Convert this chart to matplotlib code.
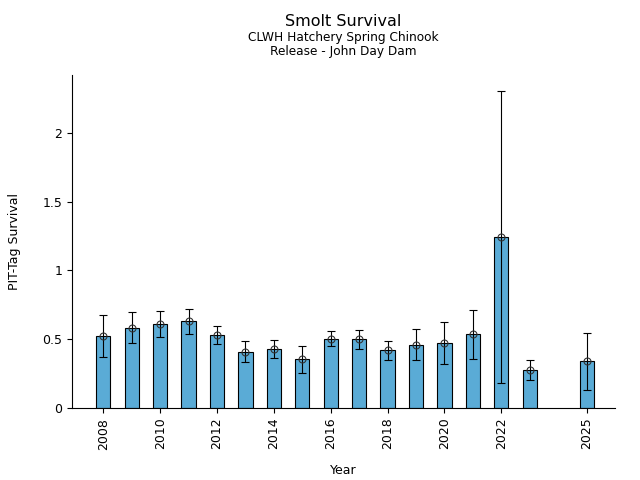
import matplotlib
matplotlib.use("Agg")
import matplotlib.pyplot as plt

years = [2008, 2009, 2010, 2011, 2012, 2013, 2014, 2015, 2016, 2017, 2018, 2019, 2020, 2021, 2022, 2023, 2025]
survival = [0.52, 0.58, 0.61, 0.63, 0.53, 0.41, 0.43, 0.355, 0.50, 0.50, 0.42, 0.456, 0.47, 0.536, 1.244, 0.274, 0.34]
upper = [0.674, 0.696, 0.708, 0.718, 0.594, 0.485, 0.492, 0.453, 0.558, 0.565, 0.485, 0.572, 0.623, 0.71, 2.303, 0.347, 0.543]
lower = [0.369, 0.47, 0.514, 0.536, 0.463, 0.337, 0.366, 0.252, 0.449, 0.431, 0.347, 0.347, 0.318, 0.354, 0.18, 0.2, 0.129]
xticks = [2008, 2010, 2012, 2014, 2016, 2018, 2020, 2022, 2025]
yticks = [0, 0.5, 1, 1.5, 2]
ytick_labels = ["0", "0.5", "1", "1.5", "2"]

fig = plt.figure(figsize=(6.4, 4.8), dpi=100)
ax = fig.add_axes([0.1125, 0.15, 0.8485, 0.694])

ax.bar(years, survival, width=0.5, color="#5aabd6", edgecolor="black", linewidth=0.8, zorder=2)
yerr = [[s - l for s, l in zip(survival, lower)], [u - s for s, u in zip(survival, upper)]]
ax.errorbar(years, survival, yerr=yerr, fmt="o", mfc="none", mec="#333333", ms=5, mew=0.8,
            ecolor="black", elinewidth=0.8, capsize=3, capthick=0.8, zorder=3)

ax.set_xticks(xticks)
ax.set_xticklabels([str(x) for x in xticks], rotation=90, fontsize=9)
ax.set_yticks(yticks)
ax.set_yticklabels(ytick_labels, fontsize=9)
ax.set_ylim(0, 2.42)
ax.set_xlim(2006.9, 2026.0)
ax.spines["top"].set_visible(False)
ax.spines["right"].set_visible(False)
ax.set_xlabel("Year", fontsize=9, labelpad=10.5)
ax.set_ylabel("PIT-Tag Survival", fontsize=9, labelpad=15)

cx = 343.5 / 640
fig.text(cx, 1 - 22 / 480, "Smolt Survival", ha="center", va="center", fontsize=11.5)
fig.text(cx, 1 - 38 / 480, "CLWH Hatchery Spring Chinook", ha="center", va="center", fontsize=8.7)
fig.text(cx, 1 - 52 / 480, "Release - John Day Dam", ha="center", va="center", fontsize=8.7)

fig.savefig("out.png", dpi=100)
